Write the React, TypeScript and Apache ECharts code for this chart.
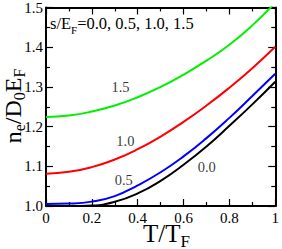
import React, { useEffect, useRef } from "react";
import * as echarts from "echarts";

const SERIF = "Liberation Serif";

// Data
const tValues = [0, 0.1, 0.2, 0.3, 0.4, 0.5, 0.6, 0.7, 0.8, 0.9, 1.0];
const nS00 = [1.0, 1.0, 1.0013, 1.0105, 1.0316, 1.0635, 1.104, 1.150, 1.202, 1.256, 1.313];
const nS05 = [1.005, 1.006, 1.011, 1.025, 1.052, 1.085, 1.125, 1.171, 1.222, 1.277, 1.333];
const nS10 = [1.081, 1.086, 1.098, 1.117, 1.143, 1.175, 1.212, 1.253, 1.298, 1.347, 1.401];
const nS15 = [1.224, 1.228, 1.238, 1.253, 1.274, 1.300, 1.331, 1.366, 1.406, 1.455, 1.512];

const seriesNames = ["0.0", "0.5", "1.0", "1.5"];
const seriesColors = ["#000000", "#0000ff", "#ff0000", "#00f000"];
const seriesValues = [nS00, nS05, nS10, nS15];

// curve annotation labels (in data coordinates)
const annotationText = ["1.5", "1.0", "0.5", "0.0"];
const annotationX = [0.325, 0.346, 0.339, 0.701];
const annotationY = [1.300, 1.164, 1.065, 1.099];

const xTicks = { min: 0, max: 1, interval: 0.2 };
const yTicks = { min: 1.0, max: 1.5, interval: 0.1 };

export default function App() {
  const ref = useRef<HTMLDivElement>(null);

  useEffect(() => {
    if (!ref.current) return;
    const chart = echarts.init(ref.current, undefined, { renderer: "svg" });

    const axisCommon = {
      type: "value" as const,
      axisLine: { show: true, onZero: false, lineStyle: { color: "#000", width: 2 } },
      axisTick: { show: true, inside: true, length: 7, lineStyle: { color: "#000", width: 1.2 } },
      minorTick: { show: true, splitNumber: 2, length: 4, lineStyle: { color: "#000", width: 1.2 } },
      splitLine: { show: false },
      minorSplitLine: { show: false },
    };

    const labelStyle = { color: "#000", fontFamily: SERIF, fontSize: 15, lineHeight: 15 };

    const fmtX = (v: number) => (v === 0 ? "0" : v === 1 ? "1" : v.toFixed(1));
    const fmtY = (v: number) => v.toFixed(1);

    const lineSeries = seriesValues.map((vals, i) => ({
      name: seriesNames[i],
      type: "line" as const,
      xAxisIndex: 0,
      yAxisIndex: 0,
      data: tValues.map((t, j) => [t, vals[j]]),
      smooth: 0.5,
      showSymbol: false,
      symbol: "none",
      clip: true,
      lineStyle: { color: seriesColors[i], width: 2 },
      z: 3,
    }));

    const annotationSeries = {
      type: "scatter" as const,
      xAxisIndex: 0,
      yAxisIndex: 0,
      symbol: "circle",
      symbolSize: 1,
      itemStyle: { color: "rgba(0,0,0,0)" },
      silent: true,
      data: annotationText.map((txt, i) => ({
        value: [annotationX[i], annotationY[i]],
        label: {
          show: true,
          position: "inside",
          formatter: txt,
          color: "#000",
          fontFamily: SERIF,
          fontSize: 14.5,
        },
      })),
    };

    const richCommon = (main: number, sub: number, raise: number) => ({
      m: { fontSize: main, fontFamily: SERIF, color: "#000", verticalAlign: "bottom", padding: [0, 0, raise, 0] },
      s: { fontSize: sub, fontFamily: SERIF, color: "#000", verticalAlign: "bottom" },
    });

    chart.setOption({
      animation: false,
      backgroundColor: "#ffffff",
      grid: { left: 46, right: 4, top: 5, bottom: 43, containLabel: false },
      xAxis: [
        {
          ...axisCommon,
          position: "bottom",
          min: xTicks.min,
          max: xTicks.max,
          interval: xTicks.interval,
          axisLabel: { ...labelStyle, margin: 4, formatter: fmtX },
        },
        {
          ...axisCommon,
          position: "top",
          min: xTicks.min,
          max: xTicks.max,
          interval: xTicks.interval,
          axisLabel: { show: false },
        },
      ],
      yAxis: [
        {
          ...axisCommon,
          position: "left",
          min: yTicks.min,
          max: yTicks.max,
          interval: yTicks.interval,
          axisLabel: { ...labelStyle, margin: 3, formatter: fmtY },
        },
        {
          ...axisCommon,
          position: "right",
          min: yTicks.min,
          max: yTicks.max,
          interval: yTicks.interval,
          axisLabel: { show: false },
        },
      ],
      series: [...lineSeries, annotationSeries],
      graphic: [
        {
          type: "text",
          x: 50,
          y: 25,
          style: {
            text: "{m|s/E}{s|F}{m|=0.0, 0.5, 1.0, 1.5}",
            align: "left",
            verticalAlign: "middle",
            rich: richCommon(16.5, 11, 3),
          },
        },
        {
          type: "text",
          x: 166.5,
          y: 235,
          style: {
            text: "{m|T/T}{s|F}",
            align: "center",
            verticalAlign: "middle",
            rich: richCommon(25, 17, 4),
          },
        },
        {
          type: "text",
          x: 14,
          y: 106,
          rotation: Math.PI / 2,
          style: {
            text: "{m|n}{s|e}{m|/D}{s|0}{m|E}{s|F}",
            align: "center",
            verticalAlign: "middle",
            rich: richCommon(24, 16, 2),
          },
        },
      ],
    });

    return () => chart.dispose();
  }, []);

  return (
    <div
      ref={ref}
      style={{ position: "fixed", left: 0, top: 0, width: 282, height: 249, background: "#fff" }}
    />
  );
}
